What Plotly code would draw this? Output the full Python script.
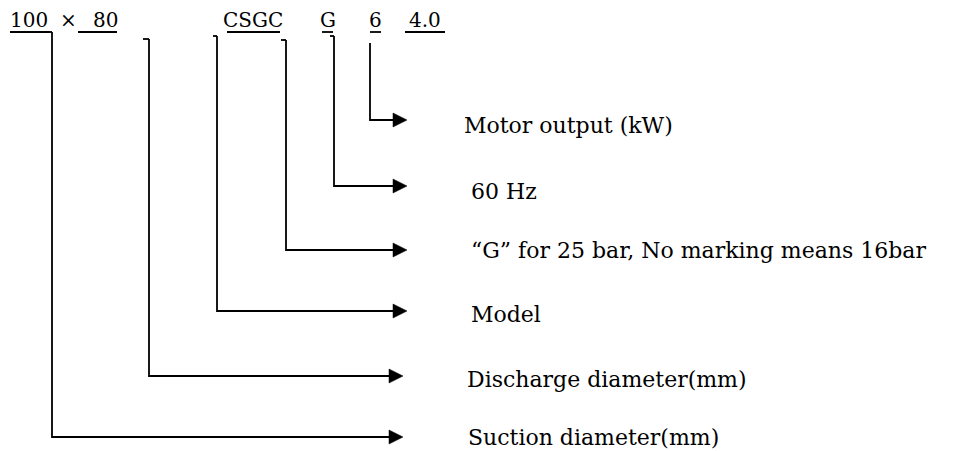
import plotly.graph_objects as go

# ---- content ----
code_labels = ["100", "×", "80", "CSGC", "G", "6", "4.0"]
code_center = [29, 68, 105, 253, 327.5, 375.5, 425]
underline_from = [10, None, 78, 227, 322, 370, 405]
underline_to = [50, None, 117, 280, 333, 381, 445]
code_y = 20

descriptions = ["Motor output (kW)", "60 Hz", "“G” for 25 bar, No marking means 16bar",
                "Model", "Discharge diameter(mm)", "Suction diameter(mm)"]
leader_x = [370, 334, 286, 217, 149, 52]
leader_top = [43, 36, 40, 36, 39, 32]
stub_left = [None, 330, 281, 213, 143, 47]
arrow_y = [120, 186, 250, 311, 376, 437]
arrow_tip = [407, 407, 407, 407, 403, 403]
desc_x = [462, 469, 469, 469, 465, 466]
desc_y = [125, 191, 250, 314, 379, 437]

PAGE_W, PAGE_H = 968, 451
OFF = 8  # default page body margin
W, H = PAGE_W - OFF, PAGE_H - OFF
FONT = "DejaVu Serif, Liberation Serif, serif"
FS_CODE = 20
FS_DESC = 22
LW = 1.8
HEAD_L, HEAD_H = 14, 7
UNDERLINE_Y = 32

fig = go.Figure()
fig.add_trace(go.Scatter(x=[OFF, PAGE_W], y=[OFF, PAGE_H], mode="markers", marker=dict(opacity=0),
                         hoverinfo="skip", showlegend=False))

shapes = []
annotations = []

# top code row
for lab, cx, u0, u1 in zip(code_labels, code_center, underline_from, underline_to):
    annotations.append(dict(x=cx, y=code_y, xref="x", yref="y", text=lab, showarrow=False,
                            xanchor="center", yanchor="middle",
                            font=dict(family=FONT, size=FS_CODE, color="black")))
    if u0 is not None:
        shapes.append(dict(type="line", xref="x", yref="y", x0=u0, x1=u1,
                           y0=UNDERLINE_Y, y1=UNDERLINE_Y, line=dict(color="black", width=LW)))

# leaders and arrows
for lx, top, stub, ay, tip, dx, dy, txt in zip(leader_x, leader_top, stub_left, arrow_y,
                                                arrow_tip, desc_x, desc_y, descriptions):
    if stub is not None:
        shapes.append(dict(type="line", xref="x", yref="y", x0=stub, x1=lx, y0=top, y1=top,
                           line=dict(color="black", width=LW)))
    shapes.append(dict(type="path", xref="x", yref="y",
                       path=f"M {lx},{top} L {lx},{ay} L {tip - HEAD_L + 1},{ay}",
                       line=dict(color="black", width=LW)))
    shapes.append(dict(type="path", xref="x", yref="y",
                       path=f"M {tip - HEAD_L},{ay - HEAD_H} L {tip},{ay} L {tip - HEAD_L},{ay + HEAD_H} Z",
                       fillcolor="black", line=dict(color="black", width=0.5)))
    annotations.append(dict(x=dx, y=dy, xref="x", yref="y", text=txt, showarrow=False,
                            xanchor="left", yanchor="middle",
                            font=dict(family=FONT, size=FS_DESC, color="black")))

fig.update_layout(
    width=W, height=H, margin=dict(l=0, r=0, t=0, b=0),
    paper_bgcolor="white", plot_bgcolor="white",
    xaxis=dict(range=[OFF, PAGE_W], visible=False, fixedrange=True),
    yaxis=dict(range=[PAGE_H, OFF], visible=False, fixedrange=True),
    shapes=shapes, annotations=annotations, showlegend=False,
)
fig.write_html("out.html")
